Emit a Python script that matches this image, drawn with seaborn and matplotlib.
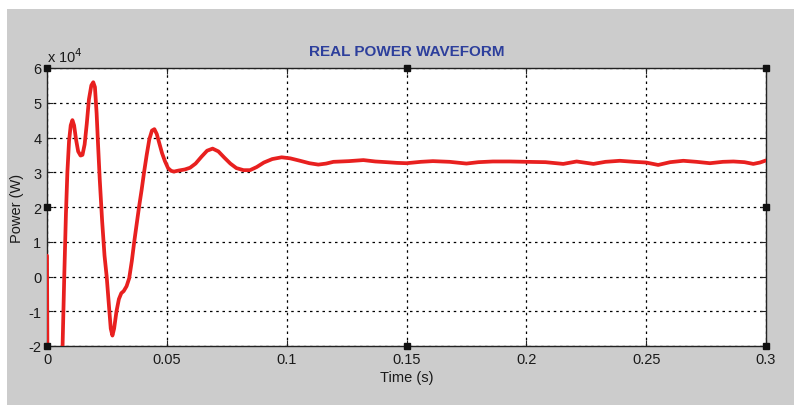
import matplotlib
matplotlib.use("Agg")
import matplotlib.pyplot as plt
from matplotlib.patches import Rectangle
from matplotlib.ticker import FuncFormatter
import seaborn as sns

# Simulated real power response (time in s, power in W)
time_s = [
    0.0, 0.0002, 0.0058, 0.0065, 0.0072, 0.0079, 0.0085, 0.0092, 0.0099, 0.0106,
    0.0113, 0.0121, 0.0130, 0.0140, 0.0148, 0.0157, 0.0166, 0.0175, 0.0185, 0.0193,
    0.0200, 0.0207, 0.0213, 0.0220, 0.0230, 0.0240, 0.0249, 0.0258, 0.0266, 0.0273,
    0.0280, 0.0290, 0.0300, 0.0310, 0.0320, 0.0332, 0.0343, 0.0354, 0.0364, 0.0374,
    0.0384, 0.0395, 0.0405, 0.0416, 0.0427, 0.0438, 0.0448, 0.0458, 0.0468, 0.0480,
    0.0492, 0.0505, 0.0518, 0.0530, 0.0550, 0.0575, 0.0597, 0.0620, 0.0645, 0.0668,
    0.0691, 0.0715, 0.0740, 0.0765, 0.0790, 0.0820, 0.0847, 0.0875, 0.0905, 0.0940,
    0.0979, 0.1015, 0.1056, 0.1095, 0.1132, 0.1165, 0.1195, 0.1260, 0.1320, 0.1370,
    0.1417, 0.1460, 0.1500, 0.1560, 0.1610, 0.1680, 0.1750, 0.1800, 0.1860, 0.1930,
    0.2000, 0.2080, 0.2154, 0.2210, 0.2280, 0.2330, 0.2390, 0.2450, 0.2500, 0.2550,
    0.2600, 0.2655, 0.2710, 0.2766, 0.2820, 0.2864, 0.2910, 0.2947, 0.2975, 0.3000,
]
power_w = [
    6000, -26000, -26000, -20000, 0, 18000, 30000, 39000, 43500, 45000,
    43500, 39500, 36000, 34800, 35000, 38000, 44000, 51000, 55000, 55900,
    54500, 47000, 38000, 28000, 16000, 6000, 0, -8000, -15000, -17000,
    -15000, -10000, -6500, -4800, -4200, -2800, -500, 4500, 10000, 15000,
    20000, 25000, 30000, 35000, 39500, 42000, 42400, 41000, 38500, 35500,
    33200, 31200, 30400, 30200, 30500, 30800, 31300, 32500, 34500, 36200,
    36800, 36000, 34200, 32500, 31200, 30600, 30600, 31500, 32800, 33800,
    34300, 34000, 33300, 32600, 32200, 32500, 33000, 33200, 33500, 33100,
    32900, 32700, 32600, 33000, 33200, 33000, 32500, 32900, 33100, 33100,
    33000, 32900, 32400, 33100, 32400, 33000, 33300, 33000, 32800, 32100,
    32900, 33300, 33000, 32600, 33000, 33100, 32900, 32400, 32800, 33400,
]

x_ticks = [0, 0.05, 0.1, 0.15, 0.2, 0.25, 0.3]
y_ticks = [-20000, -10000, 0, 10000, 20000, 30000, 40000, 50000, 60000]

sns.set_theme(style="white")
plt.rcParams["font.family"] = ["Liberation Sans", "DejaVu Sans"]

fig = plt.figure(figsize=(7.94, 4.06), dpi=100, facecolor="#cccccc")
# white margin strips along the top and left edges of the window
fig.patches.append(Rectangle((0, 1 - 10 / 406), 1, 10 / 406, transform=fig.transFigure,
                             facecolor="white", edgecolor="none", zorder=-1))
fig.patches.append(Rectangle((0, 0), 7 / 794, 1, transform=fig.transFigure,
                             facecolor="white", edgecolor="none", zorder=-1))

ax = fig.add_axes([47 / 794, 1 - 347 / 406, (766 - 47) / 794, (347 - 69) / 406])
ax.set_facecolor("white")

sns.lineplot(x=time_s, y=power_w, ax=ax, color="#e8201f", linewidth=2.7,
             sort=False, estimator=None, zorder=3)

ax.set_xlim(0, 0.3)
ax.set_ylim(-20000, 60000)
ax.set_xticks(x_ticks)
ax.set_yticks(y_ticks)
ax.xaxis.set_major_formatter(FuncFormatter(lambda v, p: f"{v:g}"))
ax.yaxis.set_major_formatter(FuncFormatter(lambda v, p: f"{v / 1e4:g}"))

ax.grid(True, color="black", linestyle=(0, (2, 3)), linewidth=0.9)
for s in ax.spines.values():
    s.set_visible(True)
    s.set_color("#222222")
    s.set_linewidth(1.0)
ax.tick_params(axis="both", direction="in", length=4, width=0.8, color="#222222",
               labelsize=10.5, labelcolor="#1a1a1a", pad=4,
               top=True, right=True, bottom=True, left=True)

ax.set_xlabel("Time (s)", fontsize=10.5, color="#1a1a1a", labelpad=3)
ax.set_ylabel("Power (W)", fontsize=10.5, color="#1a1a1a", labelpad=3)
ax.set_title("REAL POWER WAVEFORM", fontsize=11, fontweight="bold",
             color="#2d3f9c", pad=9)
ax.text(0.0, 1.012, r"x 10$^{4}$", transform=ax.transAxes, fontsize=10.5,
        color="#1a1a1a", ha="left", va="bottom")

# selection handles on the axes box
hx = [0, 0.15, 0.3, 0, 0.3, 0, 0.15, 0.3]
hy = [60000, 60000, 60000, 20000, 20000, -20000, -20000, -20000]
ax.plot(hx, hy, linestyle="none", marker="s", markersize=4.5,
        markerfacecolor="#111111", markeredgecolor="#111111", clip_on=False, zorder=5)

fig.savefig("out.png", dpi=100, facecolor=fig.get_facecolor())
